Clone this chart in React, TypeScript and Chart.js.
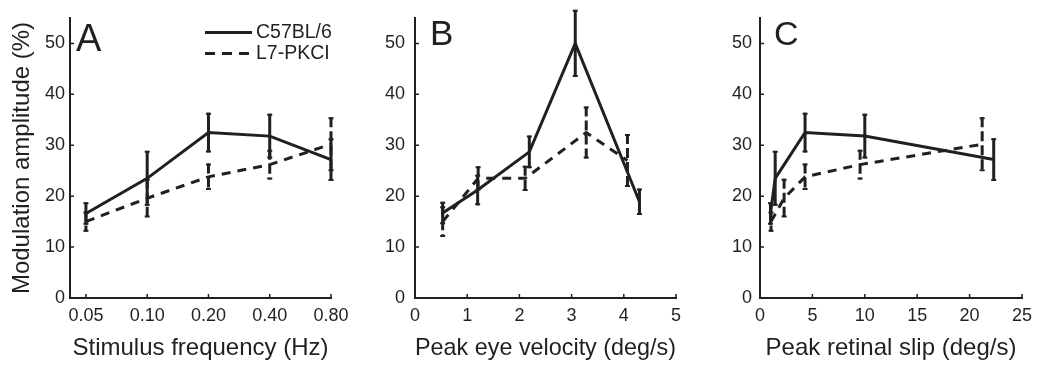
import React, { useEffect, useRef } from 'react';
import { Chart, registerables } from 'chart.js';

Chart.register(...registerables);

// ---------- data ----------
const freqLabels = ['0.05', '0.10', '0.20', '0.40', '0.80'];
const freqIndex = [0, 1, 2, 3, 4];

// Panel A & C amplitudes (same measurements, different x)
const wtAmp = [16.6, 23.5, 32.5, 31.8, 27.2];
const wtErr = [2.2, 5.4, 3.9, 4.4, 4.2];
const l7Amp = [15.0, 19.6, 23.8, 26.2, 30.2];
const l7Err = [2.0, 3.8, 2.6, 2.9, 5.3];

// Panel B
const wtEyeVel = [0.53, 1.2, 2.19, 3.07, 4.3];
const wtAmpB = [16.7, 21.2, 28.7, 50.0, 18.9];
const wtErrB = [2.2, 3.0, 3.2, 6.6, 2.6];
const l7EyeVel = [0.53, 1.21, 2.11, 3.28, 4.07];
const l7AmpB = [15.0, 23.5, 23.5, 32.5, 27.0];
const l7ErrB = [3.0, 2.4, 2.5, 5.1, 5.2];

// Panel C
const wtSlip = [1.0, 1.45, 4.3, 10.0, 22.3];
const l7Slip = [1.05, 2.3, 4.3, 9.55, 21.2];

const yTicks = [0, 10, 20, 30, 40, 50];
const velTicks = [0, 1, 2, 3, 4, 5];
const slipTicks = [0, 5, 10, 15, 20, 25];

const seriesNames = ['C57BL/6', 'L7-PKCI'];

// ---------- styling ----------
const INK = '#231f20';
const FONT = "'Liberation Sans', Arial, Helvetica, sans-serif";
const LINE_DASH = [9, 7];
const ERR_DASH = [10, 4];

const errorBarPlugin = {
  id: 'errorBars',
  afterDatasetsDraw(chart: any) {
    const ctx = chart.ctx;
    const xs = chart.scales.x;
    const ys = chart.scales.y;
    chart.data.datasets.forEach((ds: any) => {
      const errs: number[] = ds.errors || [];
      ds.data.forEach((p: any, j: number) => {
        const px = xs.getPixelForValue(p.x);
        const top = ys.getPixelForValue(p.y + errs[j]);
        const bot = ys.getPixelForValue(p.y - errs[j]);
        ctx.save();
        ctx.strokeStyle = INK;
        ctx.lineWidth = 3;
        ctx.lineCap = 'butt';
        ctx.setLineDash(ds.errDash || []);
        ctx.beginPath();
        ctx.moveTo(px, top);
        ctx.lineTo(px, bot);
        ctx.stroke();
        ctx.setLineDash([]);
        ctx.lineWidth = 2;
        ctx.beginPath();
        ctx.moveTo(px - 2.5, top + 1);
        ctx.lineTo(px + 2.5, top + 1);
        ctx.moveTo(px - 2.5, bot - 1);
        ctx.lineTo(px + 2.5, bot - 1);
        ctx.stroke();
        ctx.restore();
      });
    });
  },
};

const innerTickPlugin = {
  id: 'innerTicks',
  afterDraw(chart: any) {
    const ctx = chart.ctx;
    const { left, bottom } = chart.chartArea;
    ctx.save();
    ctx.strokeStyle = INK;
    ctx.lineWidth = 1.5;
    ctx.beginPath();
    chart.scales.y.ticks.forEach((t: any) => {
      const py = chart.scales.y.getPixelForValue(t.value);
      ctx.moveTo(left, py);
      ctx.lineTo(left + 4, py);
    });
    chart.scales.x.ticks.forEach((t: any) => {
      const px = chart.scales.x.getPixelForValue(t.value);
      ctx.moveTo(px, bottom);
      ctx.lineTo(px, bottom - 4);
    });
    ctx.stroke();
    ctx.restore();
  },
};

function makeAnnotPlugin(letter: string, lx: number, ly: number, size: number, legend: boolean) {
  return {
    id: 'annot' + letter,
    afterDraw(chart: any) {
      const ctx = chart.ctx;
      ctx.save();
      ctx.fillStyle = INK;
      ctx.font = `${size}px ${FONT}`;
      ctx.textBaseline = 'alphabetic';
      ctx.textAlign = 'left';
      ctx.fillText(letter, lx, ly);
      if (legend) {
        ctx.strokeStyle = INK;
        ctx.lineWidth = 3;
        ctx.beginPath();
        ctx.moveTo(205, 32.5);
        ctx.lineTo(252, 32.5);
        ctx.stroke();
        ctx.setLineDash([10, 7]);
        ctx.beginPath();
        ctx.moveTo(205, 53.5);
        ctx.lineTo(252, 53.5);
        ctx.stroke();
        ctx.setLineDash([]);
        ctx.font = `19.5px ${FONT}`;
        ctx.textBaseline = 'middle';
        ctx.fillText(seriesNames[0], 256, 32.5);
        ctx.fillText(seriesNames[1], 256, 53.5);
      }
      ctx.restore();
    },
  };
}

type PanelCfg = {
  left: number;
  width: number;
  yW: number;
  right: number;
  xMin: number;
  xMax: number;
  xTicks: number[];
  xLabel: (v: number, i: number) => string;
  xTitle: string;
  yTitle?: string;
  yPad: number;
  wtX: number[];
  wtY: number[];
  wtE: number[];
  l7X: number[];
  l7Y: number[];
  l7E: number[];
  letter: string;
  lx: number;
  ly: number;
  lsize: number;
  legend: boolean;
};

function Panel({ cfg }: { cfg: PanelCfg }) {
  const ref = useRef<HTMLCanvasElement | null>(null);
  useEffect(() => {
    if (!ref.current) return;
    const tickFont = { family: FONT, size: 18 };
    const titleFont = { family: FONT, size: 24 };
    const chart = new Chart(ref.current, {
      type: 'line',
      data: {
        datasets: [
          {
            label: seriesNames[0],
            data: cfg.wtX.map((x, i) => ({ x, y: cfg.wtY[i] })),
            borderColor: INK,
            backgroundColor: INK,
            borderWidth: 3,
            pointRadius: 0,
            tension: 0,
            fill: false,
            errors: cfg.wtE,
            errDash: [],
          } as any,
          {
            label: seriesNames[1],
            data: cfg.l7X.map((x, i) => ({ x, y: cfg.l7Y[i] })),
            borderColor: INK,
            backgroundColor: INK,
            borderWidth: 3,
            borderDash: LINE_DASH,
            pointRadius: 0,
            tension: 0,
            fill: false,
            errors: cfg.l7E,
            errDash: ERR_DASH,
          } as any,
        ],
      },
      options: {
        responsive: false,
        maintainAspectRatio: false,
        animation: false,
        devicePixelRatio: 1,
        layout: { padding: { left: 0, right: cfg.right, top: 18, bottom: 0 } },
        plugins: { legend: { display: false }, tooltip: { enabled: false } },
        scales: {
          x: {
            type: 'linear',
            min: cfg.xMin,
            max: cfg.xMax,
            afterBuildTicks: (s: any) => {
              s.ticks = cfg.xTicks.map((v) => ({ value: v }));
            },
            afterFit: (s: any) => {
              s.height = 67;
              s.paddingLeft = 0;
              s.paddingRight = 0;
            },
            ticks: {
              callback: (v: any, i: number) => cfg.xLabel(v, i),
              font: tickFont,
              color: INK,
              padding: 7,
              maxRotation: 0,
              autoSkip: false,
            },
            grid: { display: false, drawTicks: false },
            border: { display: true, color: INK, width: 2 },
            title: {
              display: true,
              text: cfg.xTitle,
              font: titleFont,
              color: INK,
              padding: { top: 0, bottom: 2 },
            },
          },
          y: {
            type: 'linear',
            min: 0,
            max: 55,
            afterBuildTicks: (s: any) => {
              s.ticks = yTicks.map((v) => ({ value: v }));
            },
            afterFit: (s: any) => {
              s.width = cfg.yW;
              s.paddingTop = 0;
              s.paddingBottom = 0;
            },
            ticks: {
              font: tickFont,
              color: INK,
              padding: cfg.yPad,
              autoSkip: false,
            },
            grid: { display: false, drawTicks: false },
            border: { display: true, color: INK, width: 2 },
            title: {
              display: !!cfg.yTitle,
              text: cfg.yTitle || '',
              font: titleFont,
              color: INK,
              padding: { top: 8, bottom: 0 },
            },
          },
        },
      } as any,
      plugins: [
        errorBarPlugin,
        innerTickPlugin,
        makeAnnotPlugin(cfg.letter, cfg.lx, cfg.ly, cfg.lsize, cfg.legend),
      ],
    });
    return () => chart.destroy();
  }, [cfg]);
  return (
    <canvas
      ref={ref}
      width={cfg.width}
      height={365}
      style={{ position: 'absolute', left: cfg.left, top: 0, width: cfg.width, height: 365 }}
    />
  );
}

const panels: PanelCfg[] = [
  {
    left: 0,
    width: 360,
    yW: 70,
    right: 29,
    xMin: -0.26,
    xMax: 4,
    xTicks: freqIndex,
    xLabel: (v, i) => freqLabels[i],
    xTitle: 'Stimulus frequency (Hz)',
    yTitle: 'Modulation amplitude (%)',
    yPad: 5,
    wtX: freqIndex,
    wtY: wtAmp,
    wtE: wtErr,
    l7X: freqIndex,
    l7Y: l7Amp,
    l7E: l7Err,
    letter: 'A',
    lx: 76,
    ly: 51,
    lsize: 38,
    legend: true,
  },
  {
    left: 346,
    width: 360,
    yW: 69,
    right: 30,
    xMin: 0,
    xMax: 5,
    xTicks: velTicks,
    xLabel: (v) => String(v),
    xTitle: 'Peak eye velocity (deg/s)',
    yPad: 10,
    wtX: wtEyeVel,
    wtY: wtAmpB,
    wtE: wtErrB,
    l7X: l7EyeVel,
    l7Y: l7AmpB,
    l7E: l7ErrB,
    letter: 'B',
    lx: 84,
    ly: 45,
    lsize: 35,
    legend: false,
  },
  {
    left: 692,
    width: 346,
    yW: 68,
    right: 16,
    xMin: 0,
    xMax: 25,
    xTicks: slipTicks,
    xLabel: (v) => String(v),
    xTitle: 'Peak retinal slip (deg/s)',
    yPad: 8,
    wtX: wtSlip,
    wtY: wtAmp,
    wtE: wtErr,
    l7X: l7Slip,
    l7Y: l7Amp,
    l7E: l7Err,
    letter: 'C',
    lx: 82,
    ly: 45,
    lsize: 34,
    legend: false,
  },
];

export default function App() {
  return (
    <div style={{ position: 'absolute', left: 0, top: 0, width: 1038, height: 365, background: '#fff' }}>
      {panels.map((p) => (
        <Panel key={p.letter} cfg={p} />
      ))}
    </div>
  );
}
